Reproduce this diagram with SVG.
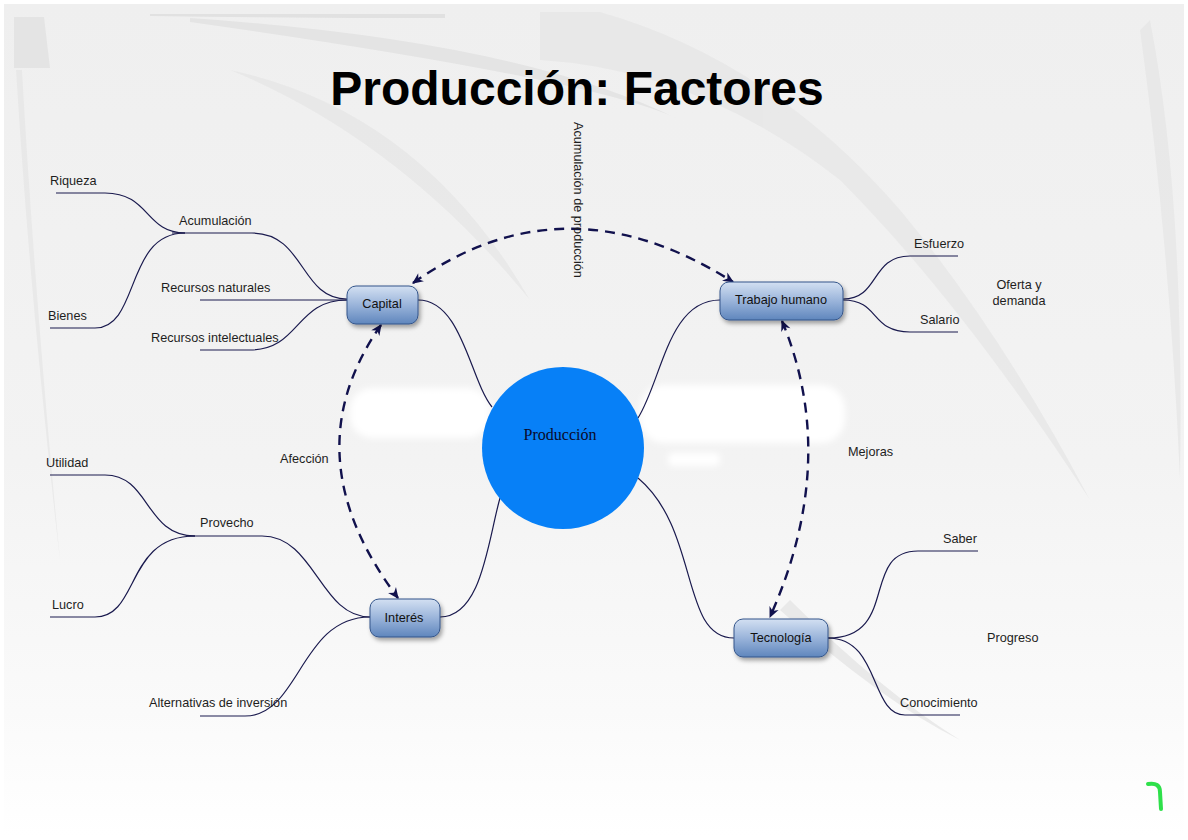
<svg xmlns="http://www.w3.org/2000/svg" width="1188" height="840" viewBox="0 0 1188 840">
<defs>
<linearGradient id="bg" x1="0" y1="0" x2="0" y2="1">
<stop offset="0" stop-color="#efefef"/><stop offset="0.55" stop-color="#f3f3f3"/><stop offset="0.85" stop-color="#fafafa"/><stop offset="1" stop-color="#ffffff"/>
</linearGradient>
<linearGradient id="nodeGrad" x1="0" y1="0" x2="0" y2="1">
<stop offset="0" stop-color="#d3e0f2"/><stop offset="0.5" stop-color="#9ab4da"/><stop offset="1" stop-color="#5f86bd"/>
</linearGradient>
<filter id="shadow" x="-20%" y="-20%" width="150%" height="160%">
<feDropShadow dx="2" dy="3" stdDeviation="2" flood-color="#000" flood-opacity="0.35"/>
</filter>
<filter id="blur" x="-10%" y="-50%" width="120%" height="200%"><feGaussianBlur stdDeviation="3"/></filter>
<marker id="arr" viewBox="0 0 10 10" refX="9" refY="5" markerWidth="12" markerHeight="11" orient="auto-start-reverse" markerUnits="userSpaceOnUse">
<path d="M0,0.5 L10,5 L0,9.5 L3,5 Z" fill="#11114d"/>
</marker>
</defs>
<style>
.lbl{font-family:"Liberation Sans",Arial,sans-serif;font-size:12.7px;fill:#1e1e1e}
.ntxt{font-family:"Liberation Sans",Arial,sans-serif;font-size:12.7px;fill:#111;text-anchor:middle}
.node{fill:url(#nodeGrad);stroke:#34558a;stroke-width:1;filter:url(#shadow)}
.br{fill:none;stroke:#1a1a4e;stroke-width:1.2}
.dash{fill:none;stroke:#11114d;stroke-width:2.4;stroke-dasharray:10 7}
</style>
<!-- background -->
<rect x="0" y="0" width="1188" height="840" fill="#ffffff"/>
<rect x="4" y="4" width="1180" height="832" fill="url(#bg)"/>
<g opacity="0.7">
<path d="M150,14 L445,14 L445,18 Q300,18 150,16 Z" fill="#dcdcdc"/>
<path d="M190,18 Q520,40 680,120 Q600,80 190,22 Z" fill="#e0e0e0"/>
<path d="M14,17 L44,17 L50,68 L14,68 Z" fill="#e0e0e0"/>
<path d="M540,12 L600,12 Q770,60 900,210 Q1000,330 1090,500 Q960,300 840,180 Q700,70 540,60 Z" fill="#e6e6e6"/>
<path d="M230,70 Q420,110 530,300 Q400,140 230,70 Z" fill="#e6e6e6"/>
<path d="M16,70 Q30,300 60,560 Q35,300 22,70 Z" fill="#e6e6e6"/>
<path d="M1150,20 Q1185,200 1180,480 Q1170,250 1140,30 Z" fill="#e6e6e6"/>
<path d="M790,600 Q880,690 960,740 Q880,700 780,610 Z" fill="#e2e2e2"/>
</g>
<!-- white blobs behind centre -->
<g fill="#ffffff" filter="url(#blur)">
<rect x="350" y="388" width="140" height="50" rx="22"/>
<rect x="640" y="385" width="205" height="58" rx="24"/>
<rect x="668" y="453" width="52" height="13" rx="5"/>
</g>
<!-- title -->
<text x="577" y="105" font-family="'Liberation Sans',Arial,sans-serif" font-size="48" font-weight="bold" text-anchor="middle" fill="#000">Producción: Factores</text>
<!-- connectors -->
<g id="connectors">
<path class="br" d="M418,300 C462,300 470,380 492,407"/>
<path class="br" d="M500,498 C488,540 482,617 440,617"/>
<path class="br" d="M638,418 C662,380 668,300 720,300"/>
<path class="br" d="M638,478 C700,530 680,638 734,638"/>
<path class="br" d="M347,299 C300,299 305,233 252,233 L172,233"/>
<path class="br" d="M56,193 L105,193 C150,193 145,233 185,233"/>
<path class="br" d="M50,328 L95,328 C140,328 125,233 185,233"/>
<path class="br" d="M200,300 L347,300"/>
<path class="br" d="M200,350 L250,350 C300,350 295,300 347,300"/>
<path class="br" d="M370,617 C320,617 315,536 262,536 L188,536"/>
<path class="br" d="M50,475 L105,475 C150,475 145,536 195,536"/>
<path class="br" d="M50,617 L95,617 C140,617 125,536 195,536"/>
<path class="br" d="M200,716 L245,716 C300,716 300,617 370,617"/>
<path class="br" d="M843,299 C880,299 870,256 910,256 L958,256"/>
<path class="br" d="M843,300 C880,300 870,332 910,332 L958,332"/>
<path class="br" d="M828,638 C900,638 860,551 918,551 L978,551"/>
<path class="br" d="M828,638 C880,638 870,715 905,715 L960,715"/>
<path class="dash" d="M413,283 Q565,175 733,282" marker-start="url(#arr)" marker-end="url(#arr)"/>
<path class="dash" d="M381,325 Q290,455 398,598" marker-start="url(#arr)" marker-end="url(#arr)"/>
<path class="dash" d="M782,321 Q840,460 770,617" marker-start="url(#arr)" marker-end="url(#arr)"/>
</g>
<text class="lbl" transform="translate(574,122) rotate(90)">Acumulación de producción</text>
<text class="lbl" x="280" y="463">Afección</text>
<text class="lbl" x="848" y="456">Mejoras</text>
<g id="produccion">
<circle cx="563" cy="448" r="81" fill="#0780f7"/>
<text x="560" y="440" font-family="'Liberation Serif','Times New Roman',serif" font-size="16" text-anchor="middle" fill="#0a0a2a">Producción</text>
</g>
<g id="capital">
<rect class="node" x="347" y="286" width="71" height="38" rx="9"/>
<text class="ntxt" x="382" y="308">Capital</text>
</g>
<g id="trabajo">
<rect class="node" x="720" y="282" width="123" height="38" rx="9"/>
<text class="ntxt" x="781" y="304">Trabajo humano</text>
</g>
<g id="interes">
<rect class="node" x="370" y="599" width="70" height="38" rx="9"/>
<text class="ntxt" x="404" y="622">Interés</text>
</g>
<g id="tecnologia">
<rect class="node" x="734" y="619" width="94" height="38" rx="9"/>
<text class="ntxt" x="781" y="642">Tecnología</text>
</g>
<g id="leaves">
<text class="lbl" x="50" y="185">Riqueza</text>
<text class="lbl" x="179" y="225">Acumulación</text>
<text class="lbl" x="48" y="320">Bienes</text>
<text class="lbl" x="161" y="292">Recursos naturales</text>
<text class="lbl" x="151" y="342">Recursos intelectuales</text>
<text class="lbl" x="46" y="467">Utilidad</text>
<text class="lbl" x="200" y="527">Provecho</text>
<text class="lbl" x="52" y="609">Lucro</text>
<text class="lbl" x="149" y="707">Alternativas de inversión</text>
<text class="lbl" x="914" y="248">Esfuerzo</text>
<text class="lbl" x="920" y="324">Salario</text>
<text class="lbl" x="1019" y="289" text-anchor="middle">Oferta y</text>
<text class="lbl" x="1019" y="305" text-anchor="middle">demanda</text>
<text class="lbl" x="943" y="543">Saber</text>
<text class="lbl" x="900" y="707">Conocimiento</text>
<text class="lbl" x="987" y="642">Progreso</text>
</g>
<path d="M1148,784 Q1160,782 1160,792 L1161,809" fill="none" stroke="#2ee04a" stroke-width="4" stroke-linecap="round"/>
</svg>
